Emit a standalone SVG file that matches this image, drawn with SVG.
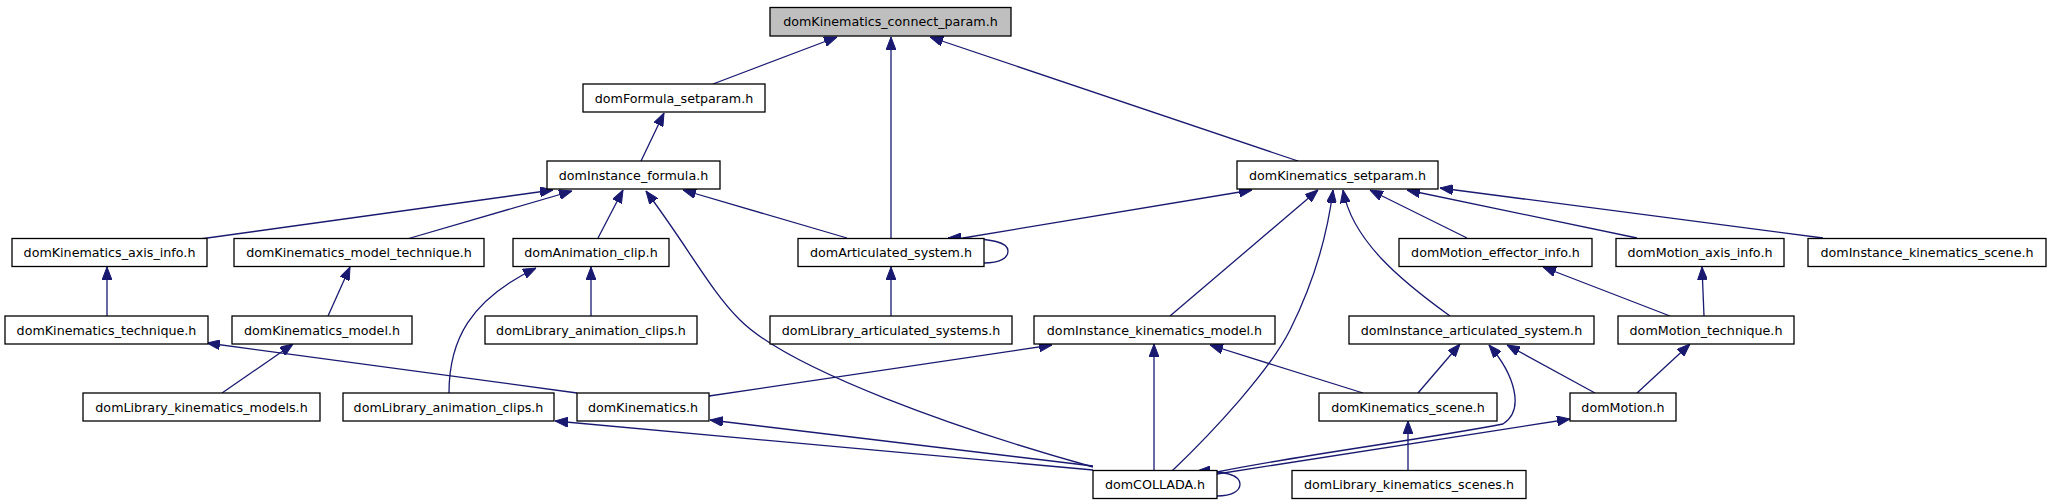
<svg xmlns="http://www.w3.org/2000/svg" width="2051" height="504" viewBox="0 0 2051 504">
<style>
.n rect{fill:#fff;stroke:#000;stroke-width:1.3}
.n.root rect{fill:#bfbfbf}
.n text{font-family:"DejaVu Sans","Liberation Sans",sans-serif;font-size:12.7px;text-anchor:middle;fill:#000}
.e path{fill:none;stroke:#191970;stroke-width:1.3;marker-end:url(#a)}
</style>
<defs>
<marker id="a" viewBox="0 0 13 10" refX="13" refY="5" markerWidth="13" markerHeight="10" markerUnits="userSpaceOnUse" orient="auto">
<path d="M0,0 L13,5 L0,10 z" fill="#191970" stroke="#191970" stroke-width="1"/>
</marker>
</defs>
<rect width="2051" height="504" fill="#fff"/>
<g class="e" id="edges">
<path d="M713,84 L837,37"/>
<path d="M891,238 L891,37"/>
<path d="M1298,161 L930,37"/>
<path d="M641,161 L664,113"/>
<path d="M200,239 L553,190"/>
<path d="M407,239 L572,191"/>
<path d="M598,238 L623,190"/>
<path d="M1093,467 C960,430 790,370 740,320 C710,290 690,250 646,191"/>
<path d="M847,238 L683,190"/>
<path d="M963,238 L1252,190"/>
<path d="M984,263 C1000,263 1008,258 1008,251 C1008,243 996,238 948,238"/>
<path d="M891,316 L891,267"/>
<path d="M591,316 L591,267"/>
<path d="M449,393 C449,340 470,300 536,268"/>
<path d="M107,316 C107,300 107,285 107,267"/>
<path d="M328,316 L350,267"/>
<path d="M222,393 L293,344"/>
<path d="M577,393 L207,343"/>
<path d="M709,396 L1052,345"/>
<path d="M1093,466 L710,420"/>
<path d="M1093,470 L555,421"/>
<path d="M1154,470 L1154,344"/>
<path d="M1170,316 L1318,190"/>
<path d="M1172,471 C1215,430 1270,370 1290,330 C1315,280 1328,230 1333,190"/>
<path d="M1450,316 C1400,280 1352,240 1343,190"/>
<path d="M1467,238 L1370,190"/>
<path d="M1637,238 L1407,190"/>
<path d="M1823,238 L1440,188"/>
<path d="M1363,393 L1210,345"/>
<path d="M1418,393 L1460,344"/>
<path d="M1217,472 C1300,455 1420,440 1503,424 C1525,410 1515,375 1489,345"/>
<path d="M1595,393 L1507,345"/>
<path d="M1217,474 L1570,419"/>
<path d="M1217,496 C1232,496 1240,491 1240,484 C1240,476 1230,471 1197,471"/>
<path d="M1408,470 L1408,421"/>
<path d="M1670,316 L1543,267"/>
<path d="M1704,316 L1702,267"/>
<path d="M1637,393 L1690,344"/>
</g>
<g class="n root" id="n_connect_param"><rect x="770" y="7.5" width="241" height="28.5"/><text x="890.5" y="26">domKinematics_connect_param.h</text></g>
<g class="n" id="n_formula_setparam"><rect x="583" y="84" width="182" height="28"/><text x="674" y="102.5">domFormula_setparam.h</text></g>
<g class="n" id="n_instance_formula"><rect x="547" y="161" width="173" height="28"/><text x="633.5" y="179.5">domInstance_formula.h</text></g>
<g class="n" id="n_kinematics_setparam"><rect x="1237" y="161" width="201" height="28"/><text x="1337.5" y="179.5">domKinematics_setparam.h</text></g>
<g class="n" id="n_axis_info"><rect x="12" y="238.5" width="195" height="28"/><text x="109.5" y="257">domKinematics_axis_info.h</text></g>
<g class="n" id="n_model_technique"><rect x="234" y="238.5" width="250" height="28"/><text x="359" y="257">domKinematics_model_technique.h</text></g>
<g class="n" id="n_animation_clip"><rect x="513" y="238.5" width="156" height="28"/><text x="591" y="257">domAnimation_clip.h</text></g>
<g class="n" id="n_articulated_system"><rect x="798" y="238.5" width="186" height="28"/><text x="891" y="257">domArticulated_system.h</text></g>
<g class="n" id="n_motion_effector_info"><rect x="1399" y="238.5" width="193" height="28"/><text x="1495.5" y="257">domMotion_effector_info.h</text></g>
<g class="n" id="n_motion_axis_info"><rect x="1616" y="238.5" width="168" height="28"/><text x="1700" y="257">domMotion_axis_info.h</text></g>
<g class="n" id="n_instance_kinematics_scene"><rect x="1808" y="238.5" width="238" height="28"/><text x="1927" y="257">domInstance_kinematics_scene.h</text></g>
<g class="n" id="n_kinematics_technique"><rect x="5" y="316" width="203" height="28"/><text x="106.5" y="334.5">domKinematics_technique.h</text></g>
<g class="n" id="n_kinematics_model"><rect x="232" y="316" width="180" height="28"/><text x="322" y="334.5">domKinematics_model.h</text></g>
<g class="n" id="n_library_animation_clips_1"><rect x="485" y="316" width="212" height="28"/><text x="591" y="334.5">domLibrary_animation_clips.h</text></g>
<g class="n" id="n_library_articulated_systems"><rect x="770" y="316" width="242" height="28"/><text x="891" y="334.5">domLibrary_articulated_systems.h</text></g>
<g class="n" id="n_instance_kinematics_model"><rect x="1034" y="316" width="241" height="28"/><text x="1154.5" y="334.5">domInstance_kinematics_model.h</text></g>
<g class="n" id="n_instance_articulated_system"><rect x="1349" y="316" width="245" height="28"/><text x="1471.5" y="334.5">domInstance_articulated_system.h</text></g>
<g class="n" id="n_motion_technique"><rect x="1618" y="316" width="176" height="28"/><text x="1706" y="334.5">domMotion_technique.h</text></g>
<g class="n" id="n_library_kinematics_models"><rect x="83" y="393" width="237" height="28"/><text x="201.5" y="411.5">domLibrary_kinematics_models.h</text></g>
<g class="n" id="n_library_animation_clips_2"><rect x="343" y="393" width="211" height="28"/><text x="448.5" y="411.5">domLibrary_animation_clips.h</text></g>
<g class="n" id="n_kinematics"><rect x="577" y="393" width="132" height="28"/><text x="643" y="411.5">domKinematics.h</text></g>
<g class="n" id="n_kinematics_scene"><rect x="1319" y="393" width="178" height="28"/><text x="1408" y="411.5">domKinematics_scene.h</text></g>
<g class="n" id="n_motion"><rect x="1570" y="393" width="106" height="28"/><text x="1623" y="411.5">domMotion.h</text></g>
<g class="n" id="n_collada"><rect x="1093" y="470.5" width="124" height="28"/><text x="1155" y="489">domCOLLADA.h</text></g>
<g class="n" id="n_library_kinematics_scenes"><rect x="1292" y="470.5" width="234" height="28"/><text x="1409" y="489">domLibrary_kinematics_scenes.h</text></g>
</svg>
